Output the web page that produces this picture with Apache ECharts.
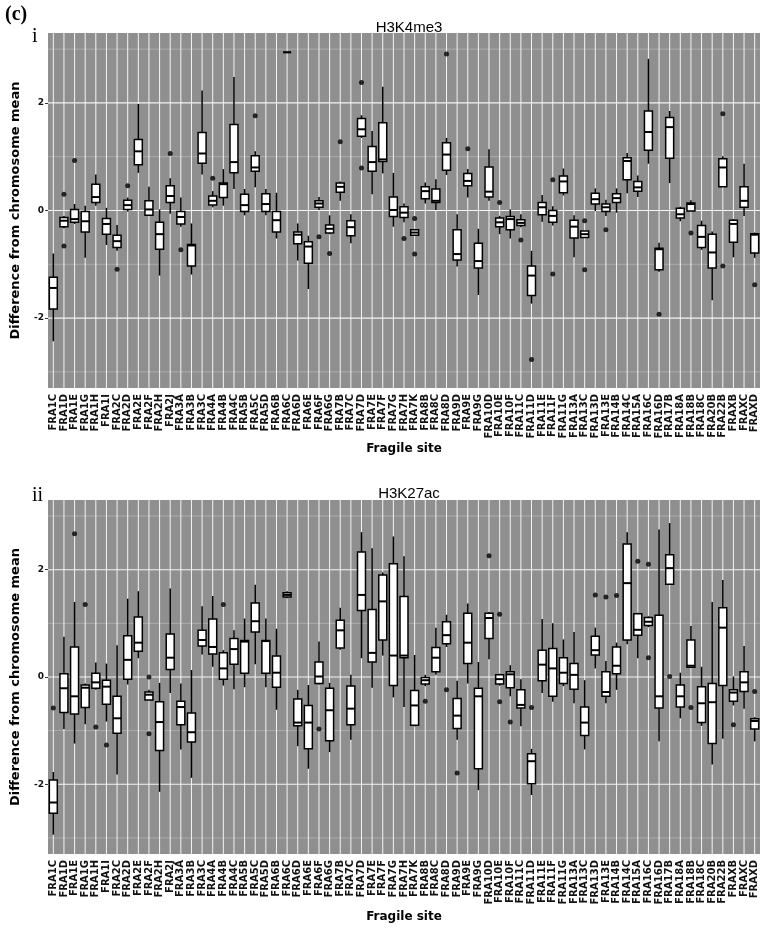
<!DOCTYPE html>
<html>
<head>
<meta charset="utf-8">
<script src="https://cdn.jsdelivr.net/npm/echarts@6/dist/echarts.min.js"></script>
<style>
  html, body { margin: 0; background: #fff; }
  #chart { width: 761px; height: 928px; }
</style>
</head>
<body>
<div id="chart"></div>
<script>
const sites = [
  'FRA1C', 'FRA1D', 'FRA1E', 'FRA1G', 'FRA1H', 'FRA1I', 'FRA2C', 'FRA2D', 'FRA2E', 'FRA2F',
  'FRA2H', 'FRA2J', 'FRA3A', 'FRA3B', 'FRA3C', 'FRA4A', 'FRA4B', 'FRA4C', 'FRA5B', 'FRA5C',
  'FRA5D', 'FRA6B', 'FRA6C', 'FRA6D', 'FRA6E', 'FRA6F', 'FRA6G', 'FRA7B', 'FRA7C', 'FRA7D',
  'FRA7E', 'FRA7F', 'FRA7G', 'FRA7H', 'FRA7K', 'FRA8B', 'FRA8C', 'FRA8D', 'FRA9D', 'FRA9E',
  'FRA9G', 'FRA10D', 'FRA10E', 'FRA10F', 'FRA11C', 'FRA11D', 'FRA11E', 'FRA11F', 'FRA11G', 'FRA13A',
  'FRA13C', 'FRA13D', 'FRA13E', 'FRA14B', 'FRA14C', 'FRA15A', 'FRA16C', 'FRA16D', 'FRA17B', 'FRA18A',
  'FRA18B', 'FRA18C', 'FRA20B', 'FRA22B', 'FRAXB', 'FRAXC', 'FRAXD',
]

// [lower whisker, Q1, median, Q3, upper whisker], one row per site
const h3k4me3Boxes = [
  [-2.43, -1.83, -1.44, -1.24, -0.80], [-0.33, -0.30, -0.19, -0.13, -0.10], [-0.25, -0.22, -0.16, 0.02, 0.12],
  [-0.88, -0.40, -0.20, -0.02, 0.09], [0.09, 0.15, 0.25, 0.49, 0.67], [-0.64, -0.44, -0.25, -0.15, 0.05],
  [-0.75, -0.69, -0.57, -0.46, -0.27], [-0.02, 0.02, 0.10, 0.19, 0.24], [0.70, 0.85, 1.10, 1.32, 1.98],
  [-0.10, -0.09, 0.02, 0.18, 0.44], [-1.21, -0.72, -0.44, -0.22, 0.02], [-0.06, 0.15, 0.27, 0.46, 0.60],
  [-0.30, -0.25, -0.12, -0.02, 0.24], [-1.19, -1.03, -0.65, -0.63, -0.24], [0.67, 0.88, 1.06, 1.45, 2.23],
  [0.06, 0.10, 0.18, 0.27, 0.36], [0.09, 0.24, 0.49, 0.51, 0.77], [0.40, 0.70, 0.90, 1.60, 2.48],
  [-0.09, -0.02, 0.10, 0.30, 0.40], [0.43, 0.73, 0.80, 1.02, 1.10], [-0.09, -0.02, 0.12, 0.31, 0.40],
  [-0.52, -0.40, -0.18, -0.02, 0.33], [2.94, 2.94, 2.94, 2.94, 2.94], [-0.93, -0.62, -0.45, -0.40, -0.24],
  [-1.46, -0.98, -0.67, -0.58, -0.47], [0.01, 0.06, 0.13, 0.18, 0.25], [-0.44, -0.42, -0.34, -0.27, -0.09],
  [0.18, 0.34, 0.44, 0.51, 0.54], [-0.61, -0.47, -0.31, -0.19, -0.07], [1.35, 1.38, 1.51, 1.71, 1.77],
  [0.30, 0.73, 0.90, 1.19, 1.48], [0.69, 0.91, 0.95, 1.63, 2.30], [-0.30, -0.11, 0.01, 0.25, 0.70],
  [-0.22, -0.13, -0.04, 0.07, 0.13], [-0.46, -0.46, -0.41, -0.36, -0.36], [0.13, 0.22, 0.36, 0.44, 0.52],
  [0.01, 0.15, 0.18, 0.40, 0.58], [0.66, 0.75, 1.04, 1.26, 1.35], [-1.04, -0.92, -0.81, -0.36, -0.07],
  [0.24, 0.46, 0.55, 0.69, 0.77], [-1.57, -1.07, -0.94, -0.61, -0.34], [0.18, 0.25, 0.35, 0.81, 1.14],
  [-0.44, -0.30, -0.22, -0.14, -0.10], [-0.52, -0.36, -0.16, -0.11, 0.02], [-0.31, -0.28, -0.23, -0.17, -0.07],
  [-1.73, -1.58, -1.21, -1.03, -0.75], [-0.21, -0.08, 0.06, 0.15, 0.29], [-0.28, -0.22, -0.10, 0.00, 0.08],
  [0.28, 0.33, 0.54, 0.64, 0.78], [-0.87, -0.51, -0.30, -0.18, -0.09], [-0.50, -0.50, -0.44, -0.38, -0.38],
  [-0.01, 0.12, 0.21, 0.32, 0.41], [-0.10, -0.02, 0.06, 0.12, 0.20], [-0.04, 0.15, 0.23, 0.31, 0.41],
  [0.32, 0.57, 0.92, 0.98, 1.07], [0.25, 0.36, 0.43, 0.54, 0.65], [0.87, 1.12, 1.46, 1.85, 2.82],
  [-1.14, -1.10, -0.72, -0.70, -0.60], [0.51, 0.97, 1.55, 1.73, 1.85], [-0.20, -0.14, -0.07, 0.04, 0.07],
  [-0.01, -0.01, 0.12, 0.14, 0.19], [-0.73, -0.69, -0.49, -0.28, -0.19], [-1.67, -1.07, -0.78, -0.44, -0.39],
  [0.44, 0.44, 0.80, 0.96, 1.01], [-0.87, -0.59, -0.25, -0.18, -0.16], [-0.10, 0.06, 0.18, 0.44, 0.87],
  [-0.88, -0.79, -0.45, -0.43, -0.41],
]

const h3k4me3Outliers = [
  ['FRA1D', 0.30], ['FRA1D', -0.66], ['FRA1E', 0.93], ['FRA2C', -1.09], ['FRA2D', 0.46],
  ['FRA2J', 1.06], ['FRA3A', -0.73], ['FRA4A', 0.60], ['FRA5C', 1.76], ['FRA6F', -0.49],
  ['FRA6G', -0.80], ['FRA7B', 1.28], ['FRA7D', 2.38], ['FRA7D', 0.79], ['FRA7H', -0.52],
  ['FRA7K', -0.15], ['FRA7K', -0.81], ['FRA8D', 2.91], ['FRA9E', 1.15], ['FRA10E', 0.15],
  ['FRA11C', -0.55], ['FRA11D', -2.77], ['FRA11F', 0.57], ['FRA11F', -1.18], ['FRA13C', -0.19],
  ['FRA13C', -1.10], ['FRA13E', -0.36], ['FRA16D', -1.93], ['FRA18B', -0.42], ['FRA22B', 1.80],
  ['FRA22B', -1.03], ['FRAXD', -1.38],
]

const h3k27acBoxes = [
  [-2.94, -2.54, -2.34, -1.92, -1.77], [-0.97, -0.66, -0.21, 0.06, 0.75], [-1.24, -0.69, -0.36, 0.56, 1.40],
  [-0.88, -0.57, -0.20, -0.15, -0.12], [-0.24, -0.21, -0.10, 0.07, 0.27], [-0.83, -0.51, -0.18, -0.06, 0.25],
  [-1.82, -1.05, -0.77, -0.36, 0.59], [-0.14, -0.04, 0.32, 0.77, 1.46], [0.35, 0.48, 0.64, 1.12, 1.60],
  [-0.43, -0.43, -0.33, -0.28, -0.24], [-2.14, -1.37, -0.84, -0.46, -0.11], [-0.30, 0.14, 0.36, 0.80, 1.65],
  [-1.35, -0.89, -0.56, -0.45, -0.12], [-1.88, -1.21, -1.03, -0.67, 0.13], [0.42, 0.58, 0.69, 0.87, 1.32],
  [0.19, 0.43, 0.56, 1.08, 1.51], [-0.16, -0.04, 0.16, 0.45, 0.50], [-0.23, 0.24, 0.52, 0.72, 0.87],
  [-0.19, 0.07, 0.66, 0.68, 1.09], [0.24, 0.84, 1.04, 1.38, 1.72], [-0.19, 0.07, 0.67, 0.68, 1.09],
  [-0.61, -0.19, 0.08, 0.39, 0.90], [1.47, 1.49, 1.53, 1.57, 1.60], [-1.29, -0.91, -0.85, -0.41, -0.24],
  [-1.71, -1.34, -0.85, -0.53, -0.15], [-0.14, -0.12, 0.01, 0.28, 0.66], [-1.40, -1.19, -0.62, -0.21, -0.11],
  [0.51, 0.54, 0.87, 1.06, 1.29], [-1.17, -0.89, -0.59, -0.17, 0.04], [0.35, 1.24, 1.53, 2.33, 2.70],
  [-0.20, 0.28, 0.45, 1.26, 2.40], [0.40, 0.69, 1.41, 1.90, 1.95], [-0.38, -0.16, 0.40, 2.11, 2.62],
  [-0.56, 0.36, 0.40, 1.50, 2.25], [-0.92, -0.90, -0.53, -0.25, 0.41], [-0.17, -0.13, -0.06, -0.01, 0.04],
  [0.04, 0.10, 0.36, 0.55, 0.92], [0.56, 0.62, 0.78, 1.03, 1.16], [-1.17, -0.96, -0.72, -0.40, -0.07],
  [-0.12, 0.25, 0.64, 1.19, 1.37], [-2.11, -1.71, -0.36, -0.21, 0.28], [0.33, 0.72, 1.10, 1.19, 1.21],
  [-0.16, -0.13, -0.04, 0.04, 0.06], [-0.36, -0.20, 0.05, 0.10, 0.22], [-0.92, -0.58, -0.52, -0.24, -0.04],
  [-2.20, -1.99, -1.57, -1.43, -1.34], [-0.30, -0.07, 0.23, 0.50, 1.08], [-0.46, -0.36, 0.16, 0.53, 1.00],
  [-0.17, -0.12, 0.08, 0.36, 0.70], [-0.49, -0.23, 0.04, 0.25, 0.84], [-1.35, -1.09, -0.85, -0.56, -0.06],
  [0.16, 0.41, 0.50, 0.76, 0.92], [-0.49, -0.36, -0.28, 0.10, 0.30], [-0.24, 0.06, 0.21, 0.56, 0.64],
  [0.61, 0.69, 1.75, 2.48, 2.70], [0.35, 0.78, 0.88, 1.18, 1.20], [0.93, 0.96, 1.03, 1.11, 1.13],
  [-1.20, -0.58, -0.36, 1.15, 2.75], [1.73, 1.73, 2.03, 2.28, 2.87], [-0.77, -0.56, -0.36, -0.15, 0.08],
  [0.18, 0.18, 0.21, 0.69, 0.95], [-0.91, -0.85, -0.49, -0.18, 0.19], [-1.63, -1.24, -0.47, -0.12, 1.40],
  [-1.15, -0.16, 0.92, 1.29, 1.81], [-0.53, -0.45, -0.29, -0.24, 0.01], [-0.59, -0.27, -0.10, 0.10, 0.58],
  [-1.20, -0.97, -0.82, -0.78, -0.75],
]

const h3k27acOutliers = [
  ['FRA1C', -0.58], ['FRA1E', 2.67], ['FRA1G', 1.35], ['FRA1H', -0.93], ['FRA1I', -1.27],
  ['FRA2F', 0.00], ['FRA2F', -1.06], ['FRA4B', 1.35], ['FRA6F', -0.97], ['FRA8B', -0.45],
  ['FRA8D', -0.24], ['FRA9D', -1.79], ['FRA10D', 2.26], ['FRA10E', 1.17], ['FRA10E', -0.46],
  ['FRA10F', -0.84], ['FRA11D', -0.57], ['FRA13D', 1.53], ['FRA13E', 1.49], ['FRA14B', 1.52],
  ['FRA15A', 2.16], ['FRA16C', 2.10], ['FRA16C', 0.36], ['FRA17B', 0.01], ['FRA18B', -0.57],
  ['FRAXB', -0.89], ['FRAXD', -0.27],
]

const yTicks = [-2, 0, 2]
const yGridValues = [-3, -2, -1, 0, 1, 2, 3]

const panels = [
  { title: 'H3K4me3', tag: 'i', boxes: h3k4me3Boxes, outliers: h3k4me3Outliers, top: 33, height: 355, titleTop: 15, tagTop: 22, nameGap: 52 },
  { title: 'H3K27ac', tag: 'ii', boxes: h3k27acBoxes, outliers: h3k27acOutliers, top: 500, height: 354, titleTop: 481, tagTop: 481, nameGap: 57 },
]

const sans = 'DejaVu Sans'
const panelGrey = '#8f8f8f'

function renderHLine(params, api) {
  const value = api.value(0)
  const y = api.coord([0, value])[1]
  const cs = params.coordSys
  const major = value % 2 === 0
  return {
    type: 'line',
    shape: { x1: cs.x, y1: y, x2: cs.x + cs.width, y2: y },
    style: { stroke: major ? '#f4f4f4' : '#b3b3b3', lineWidth: major ? 1.2 : 0.8 },
  }
}

function renderVLine(params, api) {
  const x = api.coord([api.value(0), 0])[0]
  const cs = params.coordSys
  return {
    type: 'line',
    shape: { x1: x, y1: cs.y, x2: x, y2: cs.y + cs.height },
    style: { stroke: '#f4f4f4', lineWidth: 1 },
  }
}

function renderBox(params, api) {
  const i = api.value(0)
  const pt = (dim) => api.coord([i, api.value(dim)])
  const [x, yLow] = pt(1)
  const yQ1 = pt(2)[1]
  const yMed = pt(3)[1]
  const yQ3 = pt(4)[1]
  const yHigh = pt(5)[1]
  const half = api.size([1, 0])[0] * 0.375
  return {
    type: 'group',
    children: [
      { type: 'line', shape: { x1: x, y1: yHigh, x2: x, y2: yLow }, style: { stroke: '#000', lineWidth: 1.5 } },
      { type: 'rect', shape: { x: x - half, y: yQ3, width: half * 2, height: yQ1 - yQ3 }, style: { fill: '#fff', stroke: '#000', lineWidth: 1.5 } },
      { type: 'line', shape: { x1: x - half, y1: yMed, x2: x + half, y2: yMed }, style: { stroke: '#000', lineWidth: 2 } },
    ],
  }
}

const chart = echarts.init(document.getElementById('chart'), null, { renderer: 'canvas' })

chart.setOption({
  animation: false,
  backgroundColor: '#fff',
  title: [
    { text: '(c)', left: 0, top: 0, textStyle: { fontFamily: 'Liberation Serif', fontWeight: 'bold', fontSize: 20, color: '#000' } },
    ...panels.map((p) => ({ text: p.tag, left: 27, top: p.tagTop, textStyle: { fontFamily: 'Liberation Serif', fontWeight: 'normal', fontSize: 20, color: '#000' } })),
    ...panels.map((p) => ({ text: p.title, left: 404, top: p.titleTop, textAlign: 'center', textStyle: { fontFamily: 'Liberation Sans', fontWeight: 'normal', fontSize: 15, color: '#000' } })),
  ],
  grid: panels.map((p) => ({
    left: 48, right: 1, top: p.top, height: p.height,
    show: true, backgroundColor: panelGrey, borderWidth: 0,
  })),
  xAxis: panels.map((p, k) => ({
    gridIndex: k,
    type: 'category',
    data: sites,
    boundaryGap: true,
    axisLine: { show: false },
    axisTick: { alignWithLabel: true, length: 3, lineStyle: { color: '#333' } },
    axisLabel: { rotate: 90, interval: 0, margin: 6, fontFamily: sans, fontWeight: 'bold', fontSize: 10, color: '#111' },
    splitLine: { show: false },
    name: 'Fragile site',
    nameLocation: 'middle',
    nameGap: p.nameGap,
    nameTextStyle: { fontFamily: sans, fontWeight: 'bold', fontSize: 12, color: '#000' },
  })),
  yAxis: panels.map((p, k) => ({
    gridIndex: k,
    type: 'value',
    min: -3.3,
    max: 3.3,
    axisLine: { show: false },
    axisTick: { show: true, customValues: yTicks, length: 3, lineStyle: { color: '#333' } },
    axisLabel: { customValues: yTicks, margin: 4, fontFamily: sans, fontWeight: 'bold', fontSize: 9, color: '#111' },
    splitLine: { show: false },
    name: 'Difference from chromosome mean',
    nameLocation: 'middle',
    nameGap: 26,
    nameTextStyle: { fontFamily: sans, fontWeight: 'bold', fontSize: 13, color: '#000' },
  })),
  series: panels.flatMap((p, k) => [
    {
      type: 'custom', xAxisIndex: k, yAxisIndex: k, silent: true, z: 1,
      renderItem: renderHLine, encode: { y: 0 },
      data: yGridValues.map((v) => [v]),
    },
    {
      type: 'custom', xAxisIndex: k, yAxisIndex: k, silent: true, z: 1,
      renderItem: renderVLine, encode: { x: 0 },
      data: sites.map((s, i) => [i]),
    },
    {
      type: 'custom', xAxisIndex: k, yAxisIndex: k, z: 2,
      renderItem: renderBox, encode: { x: 0, y: [1, 2, 3, 4, 5] },
      data: p.boxes.map((b, i) => [i, ...b]),
    },
    {
      type: 'scatter', xAxisIndex: k, yAxisIndex: k, z: 3,
      symbolSize: 5, itemStyle: { color: '#000' },
      data: p.outliers,
    },
  ]),
})
</script>
</body>
</html>
